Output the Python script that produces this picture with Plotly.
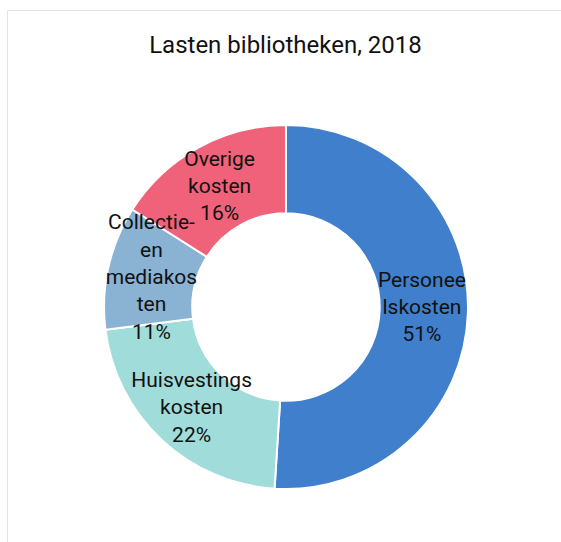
import plotly.graph_objects as go

categories = ["Personeelskosten", "Huisvestingskosten", "Collectie- en mediakosten", "Overige kosten"]
values = [51, 22, 11, 16]
label_text = ["Personee<br>lskosten<br>51%", "Huisvestings<br>kosten<br>22%",
              "Collectie-<br>en<br>mediakos<br>ten<br>11%", "Overige<br>kosten<br>16%"]
colors = ["#407FCB", "#A0DCDA", "#8AB2D3", "#F0627A"]

W, H = 561, 542
dom = dict(x=[104/W, 468/W], y=[53/H, 417/H])

common = dict(labels=categories, values=values, hole=0.515, sort=False,
              direction="clockwise", rotation=0, domain=dom, showlegend=False)

# coloured ring
fig = go.Figure(go.Pie(
    **common,
    textinfo="none",
    marker=dict(colors=colors, line=dict(color="white", width=2)),
))
# labels on a transparent ring above, so no slice covers another's label
fig.add_trace(go.Pie(
    **common,
    text=label_text,
    textinfo="text",
    textposition="inside",
    insidetextorientation="horizontal",
    marker=dict(colors=["rgba(0,0,0,0)"] * len(values), line=dict(width=0)),
    textfont=dict(family="Roboto", size=21, color="#111111"),
    hoverinfo="skip",
))

fig.update_layout(
    width=W, height=H,
    margin=dict(l=0, r=0, t=0, b=0),
    paper_bgcolor="white",
    uniformtext=dict(minsize=21, mode="show"),
    title=dict(text="Lasten bibliotheken, 2018", x=285.5/W, xanchor="center",
               y=1 - 45/H, yanchor="middle",
               font=dict(family="Roboto", size=24, color="#111111")),
    shapes=[dict(type="rect", xref="paper", yref="paper",
                 x0=7.5/W, x1=1.02, y0=-0.02, y1=1 - 10.5/H,
                 line=dict(color="#E3E3E3", width=1), fillcolor="rgba(0,0,0,0)", layer="below")],
)

fig.write_html("out.html", config={"displayModeBar": False},
               post_script="document.body.style.margin='0';")
